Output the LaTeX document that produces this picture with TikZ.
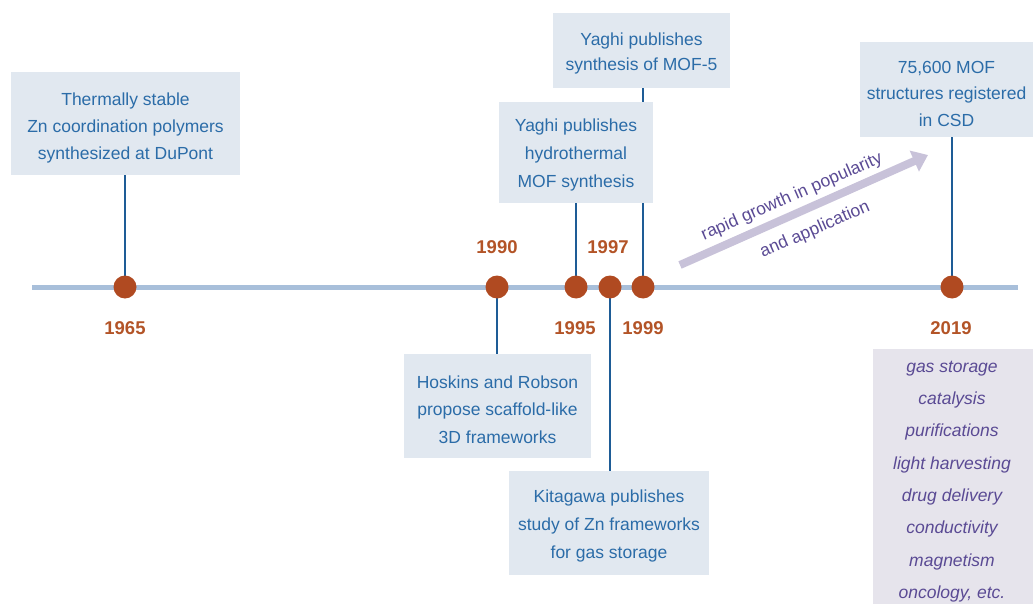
\documentclass[tikz,border=0pt]{standalone}
\usepackage{fontspec}
\setmainfont{Liberation Sans}
\usetikzlibrary{arrows.meta}
\definecolor{boxfill}{HTML}{E1E8F0}
\definecolor{boxtext}{HTML}{2B6CA8}
\definecolor{conncol}{HTML}{1E5C96}
\definecolor{linecol}{HTML}{A8BFDA}
\definecolor{dotcol}{HTML}{B04A21}
\definecolor{yearcol}{HTML}{B35427}
\definecolor{appfill}{HTML}{E6E4EC}
\definecolor{apptext}{HTML}{5A4A94}
\definecolor{arrowcol}{HTML}{C8C2D9}
\pgfdeclarelayer{background}
\pgfsetlayers{background,main}
\tikzset{
  eventbox/.style={fill=boxfill, inner sep=0pt},
  eventtext/.style={text=boxtext, align=center, inner sep=0pt,
    font=\fontsize{17.5}{27.3}\selectfont},
  conn/.style={draw=conncol, line width=2pt},
  dot/.style={circle, fill=dotcol, minimum size=23pt, inner sep=0pt},
  year/.style={text=yearcol, font=\fontsize{18.5}{20}\selectfont\bfseries},
  appbox/.style={fill=appfill, inner sep=0pt},
  apptxt/.style={text=apptext, align=center, inner sep=0pt,
    font=\fontsize{17.5}{32.3}\selectfont\itshape},
  growtext/.style={text=apptext, rotate=23.6, font=\fontsize{17.5}{20}\selectfont}
}
\begin{document}
\begin{tikzpicture}[x=1pt,y=-1pt]
\useasboundingbox (0,0) rectangle (1033,604);
% timeline
\coordinate (tl) at (32,287);
\coordinate (tr) at (1018,287);
% dots
\node[dot] (d1965) at (125,287) {};
\node[dot] (d1990) at (497,287) {};
\node[dot] (d1995) at (576,287) {};
\node[dot] (d1997) at (610,287) {};
\node[dot] (d1999) at (643,287) {};
\node[dot] (d2019) at (952,287) {};
% years
\node[year] (y1965) at (125,328) {1965};
\node[year] (y1990) at (497,247) {1990};
\node[year] (y1995) at (575,328) {1995};
\node[year] (y1997) at (608,247) {1997};
\node[year] (y1999) at (643,328) {1999};
\node[year] (y2019) at (951,328) {2019};
% boxes
\node[eventbox, minimum width=229pt, minimum height=103pt] (dupont) at (125.5,123.5) {};
\node[eventtext] (dupontT) at (125.5,128) {Thermally stable\\Zn coordination polymers\\synthesized at DuPont};
\node[eventbox, minimum width=177pt, minimum height=75pt] (mof5) at (641.5,50.5) {};
\node[eventtext, font=\fontsize{17.5}{25}\selectfont] (mof5T) at (641.5,53) {Yaghi publishes\\synthesis of MOF-5};
\node[eventbox, minimum width=154pt, minimum height=101pt] (hydro) at (576,152.5) {};
\node[eventtext, font=\fontsize{17.5}{28}\selectfont] (hydroT) at (576,154.5) {Yaghi publishes\\hydrothermal\\MOF synthesis};
\node[eventbox, minimum width=173pt, minimum height=95pt] (csd) at (946.5,89.5) {};
\node[eventtext, font=\fontsize{17.5}{26.5}\selectfont] (csdT) at (946.5,93.5) {75,600 MOF\\structures registered\\in CSD};
\node[eventbox, minimum width=187pt, minimum height=104pt] (hoskins) at (497.5,406) {};
\node[eventtext] (hoskinsT) at (497.5,409.5) {Hoskins and Robson\\propose scaffold-like\\3D frameworks};
\node[eventbox, minimum width=200pt, minimum height=104pt] (kita) at (609,523) {};
\node[eventtext, font=\fontsize{17.5}{28}\selectfont] (kitaT) at (609,526) {Kitagawa publishes\\study of Zn frameworks\\for gas storage};
\node[appbox, minimum width=160pt, minimum height=257pt] (apps) at (953,477.5) {};
\node[apptxt] (appsT) at (952,481.5) {gas storage\\catalysis\\purifications\\light harvesting\\drug delivery\\conductivity\\magnetism\\oncology, etc.};
% connectors
\begin{pgfonlayer}{background}
\draw[linecol, line width=5pt] (tl) -- (tr);
\draw[conn] (dupont.south -| d1965) -- (d1965.center);
\draw[conn] (mof5.south -| d1999) -- (d1999.center);
\draw[conn] (hydro.south -| d1995) -- (d1995.center);
\draw[conn] (csd.south -| d2019) -- (d2019.center);
\draw[conn] (d1990.center) -- (hoskins.north -| d1990);
\draw[conn] (d1997.center) -- (kita.north -| d1997);
\end{pgfonlayer}
% growth arrow
\coordinate (atail) at (680,265);
\coordinate (ahead) at (928,155);
\draw[arrowcol, line width=8pt, -{Triangle[length=15pt,width=22pt]}] (atail) -- (ahead);
\node[growtext] (g1) at (792,197) {rapid growth in popularity};
\node[growtext] (g2) at (815,230) {and application};
\end{tikzpicture}
\end{document}
